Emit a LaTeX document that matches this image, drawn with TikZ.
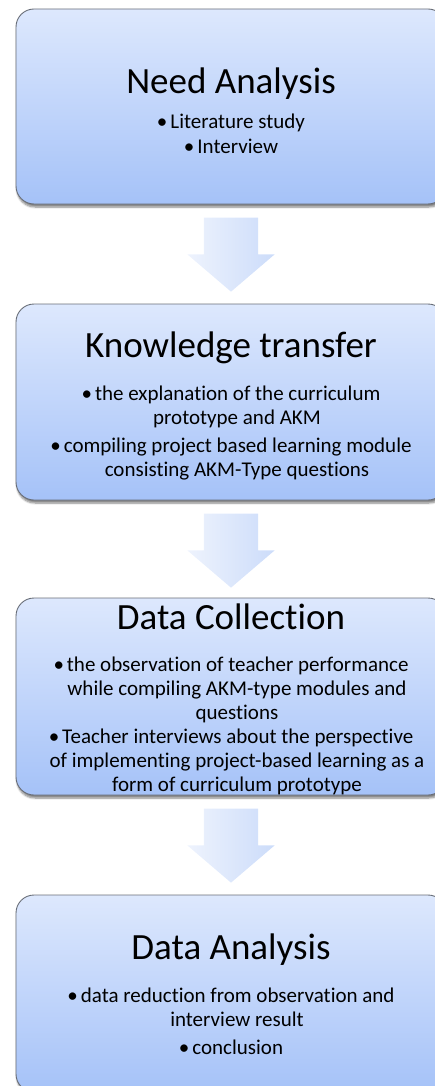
\documentclass[tikz,border=0pt]{standalone}
\usepackage{fontspec}
\setmainfont{Carlito}[Ligatures=NoCommon]
\usepackage{tikz}
\usetikzlibrary{calc,shapes.arrows,shadows.blur}
\definecolor{boxtop}{RGB}{221,232,253}
\definecolor{boxbottom}{RGB}{165,194,248}
\definecolor{arrowtop}{RGB}{238,243,253}
\definecolor{arrowbottom}{RGB}{204,220,250}
\definecolor{boxline}{RGB}{105,110,120}
\newcommand{\titlefont}{\fontsize{37}{44}\selectfont}
\newcommand{\bulletmark}{\textbullet\hspace{3pt}}
\newcommand{\contline}{\hspace*{12pt}}

\begin{document}
\begin{tikzpicture}[x=1pt,y=-1pt]
\tikzset{stage/.style={draw=boxline,line width=0.9pt,rounded corners=18pt,
    top color=boxtop,bottom color=boxbottom,minimum width=430pt,inner sep=0pt,
    blur shadow={shadow xshift=1pt,shadow yshift=-3pt,shadow blur steps=6,shadow opacity=50}}}
\tikzset{stagetext/.style={align=center,inner sep=0pt,font=\fontsize{21}{24}\selectfont}}
\tikzset{downarrow/.style={single arrow,rotate=-90,draw=none,anchor=tail,
    left color=arrowtop,right color=arrowbottom,
    minimum height=74pt,inner xsep=0pt,inner ysep=27pt,
    single arrow head extend=16.5pt,single arrow tip angle=99}}
\useasboundingbox (0,0) rectangle (434,1086);
% the four stages
\node[stage,minimum height=195pt] (need) at (231,106.5) {};
\node[stage,minimum height=196pt] (transfer) at (231,402) {};
\node[stage,minimum height=197pt] (collect) at (231,696.5) {};
\node[stage,minimum height=197pt] (analysis) at (231,993.5) {};
% their texts
\node[stagetext] (need-text) at ([yshift=-4pt]need.center)
  {{\titlefont Need Analysis}\\[11pt]
   \bulletmark Literature study\\[1pt]
   \bulletmark Interview};
\node[stagetext] (transfer-text) at ([yshift=-4pt]transfer.center)
  {{\titlefont Knowledge transfer}\\[19pt]
   \bulletmark the explanation of the curriculum\\
   \contline prototype and AKM\\[4pt]
   \bulletmark compiling project based learning module\\
   \contline consisting AKM-Type questions};
\node[stagetext] (collect-text) at ([yshift=-3pt]collect.center)
  {{\titlefont Data Collection}\\[18pt]
   \bulletmark the observation of teacher performance\\
   \contline while compiling AKM-type modules and\\
   \contline questions\\
   \bulletmark Teacher interviews about the perspective\\
   \contline of implementing project-based learning as a\\
   \contline form of curriculum prototype};
\node[stagetext] (analysis-text) at ([yshift=-1pt]analysis.center)
  {{\titlefont Data Analysis}\\[19pt]
   \bulletmark data reduction from observation and\\
   \contline interview result\\[4pt]
   \bulletmark conclusion};
% block arrows between them
\foreach \s/\t in {need/transfer,transfer/collect,collect/analysis}
{
    \node[downarrow] (\s-\t) at ([yshift=-13pt]\s.south) {};
}
\end{tikzpicture}
\end{document}
